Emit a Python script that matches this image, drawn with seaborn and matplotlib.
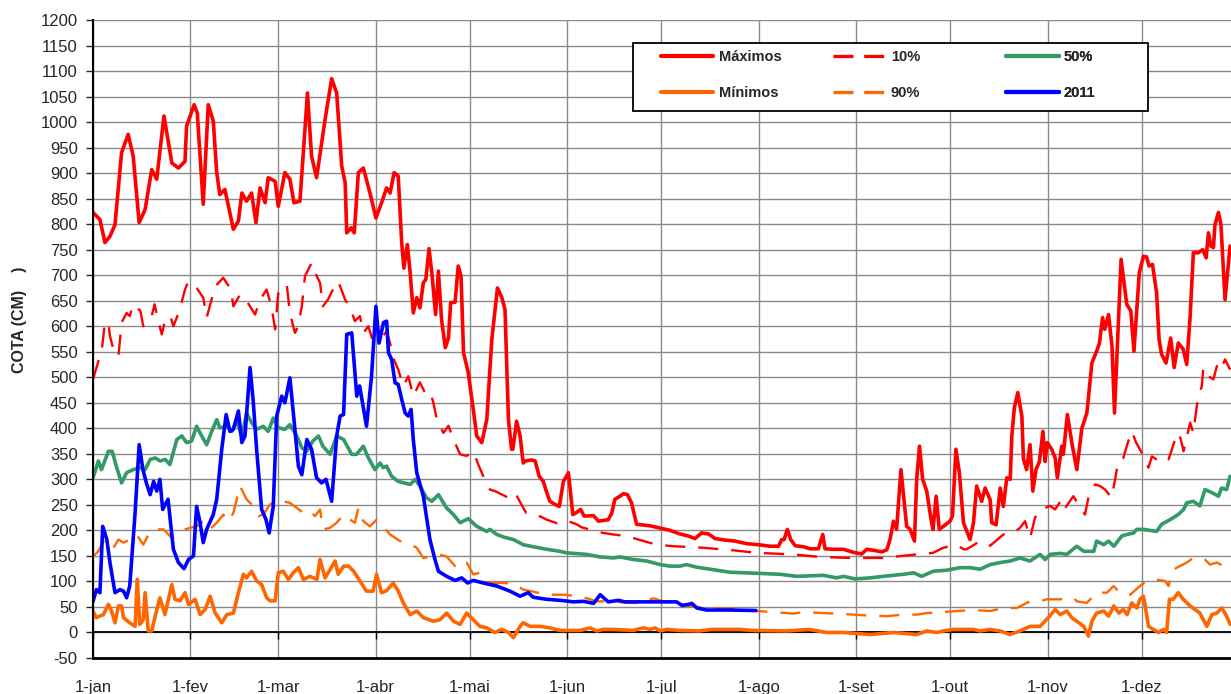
import pandas as pd
import seaborn as sns
import matplotlib.pyplot as plt
from matplotlib.lines import Line2D
from matplotlib.patches import Rectangle

# dias contados a partir de 1-jan (0 = 1-jan)
meses_dia = [0, 31, 59, 90, 120, 151, 181, 212, 243, 273, 304, 334]
meses_rotulo = ["1-jan", "1-fev", "1-mar", "1-abr", "1-mai", "1-jun",
                "1-jul", "1-ago", "1-set", "1-out", "1-nov", "1-dez"]
cota_ticks = list(range(-50, 1201, 50))

# (dia, cota em cm)
maximos = [(0, 823), (2.2, 809), (3.8, 764), (5.4, 776), (7, 799), (9.1, 940), (11.2, 976), (12.8, 933),
           (14.7, 803), (16.6, 829), (18.7, 907), (20.3, 888), (22.6, 1012), (25.1, 920), (27.2, 910),
           (29.3, 923), (29.8, 992), (32.2, 1034), (33.2, 1018), (35.1, 839), (36.7, 1034), (38.3, 1002),
           (39.4, 901), (40.4, 858), (42, 868), (44.7, 790), (46.3, 806), (47.4, 861), (48.9, 845),
           (50.5, 861), (51.9, 803), (53.2, 871), (54.8, 842), (55.8, 891), (58, 884), (59, 835),
           (61.1, 901), (62.7, 888), (64, 842), (65.9, 845), (68.3, 1057), (69.6, 933), (71.2, 891),
           (73.9, 1005), (76, 1085), (77.6, 1057), (79.2, 914), (80.3, 881), (80.8, 783), (82.2, 793),
           (83.2, 783), (84.5, 901), (86.1, 910), (88.2, 861), (90.1, 812), (91.9, 842), (93.5, 871),
           (94.6, 861), (95.9, 901), (97.2, 894), (98.3, 764), (99, 714), (100.1, 760), (101, 705),
           (102, 626), (103.1, 656), (104.1, 636), (105.2, 685), (106, 692), (107, 752), (107.9, 705),
           (109.1, 623), (110, 708), (111, 613), (112.2, 558), (113.2, 577), (113.9, 646), (115.3, 647),
           (116.3, 718), (117.2, 698), (118, 548), (119.5, 509), (121.1, 437), (122.2, 385), (123.8, 372),
           (125.4, 417), (127, 574), (128.8, 675), (130.2, 656), (131.2, 633), (132.3, 417), (133.3, 359),
           (133.7, 359), (134.9, 414), (136, 385), (137, 332), (137.7, 336), (139.7, 338), (140.8, 336),
           (142.1, 306), (143.4, 296), (144.5, 274), (145.5, 257), (147.1, 251), (148.5, 247), (149.8, 296),
           (151.4, 313), (152.8, 231), (153.7, 234), (155.3, 241), (156.4, 228), (159.4, 229), (161, 218),
           (164.1, 221), (165.2, 234), (166.2, 261), (167.8, 267), (168.9, 272), (170.2, 270), (171.5, 254),
           (173.1, 212), (177.4, 209), (181.6, 203), (183.8, 200), (186.9, 193), (189.6, 189), (191.7, 184),
           (193.8, 195), (196, 193), (198.1, 184), (201.3, 181), (204.5, 179), (208.2, 174), (211.9, 172),
           (215.6, 169), (218.3, 169), (219.3, 182), (220.1, 182), (221.1, 202), (222.2, 182), (223.6, 170),
           (226.2, 168), (228.3, 164), (231, 164), (232.4, 192), (233.1, 164), (235.8, 163), (239, 163),
           (242.1, 157), (244.8, 154), (246.4, 163), (248.5, 161), (251.2, 158), (252.8, 162), (253.8, 182),
           (254.9, 218), (255.9, 202), (257.3, 319), (259.1, 208), (260.2, 202), (261.6, 179), (262.3, 300),
           (263.2, 365), (264.2, 300), (265.5, 277), (266.9, 221), (267.5, 202), (268.5, 267), (269.5, 202),
           (270.8, 208), (272.9, 218), (273.7, 228), (274.8, 359), (275.9, 313), (277.2, 215), (279.3, 182),
           (280.4, 215), (281.4, 287), (283, 257), (284.1, 283), (285.7, 260), (286.2, 215), (287.6, 211),
           (288.9, 283), (289.9, 247), (291, 303), (292.1, 300), (292.6, 385), (293.4, 440), (294.5, 470),
           (295.8, 424), (296.3, 340), (297.3, 319), (298.4, 368), (299.3, 277), (300.3, 319), (301.4, 335),
           (302.5, 394), (303.2, 335), (303.9, 372), (305.3, 359), (306.4, 342), (307.1, 303), (308.5, 365),
           (309, 349), (310.3, 427), (311.7, 372), (313.3, 319), (314.9, 400), (316.5, 430), (318.1, 528),
           (319.6, 551), (320.5, 567), (321.5, 617), (322.2, 594), (323.4, 623), (324.5, 561), (325.3, 430),
           (326.2, 558), (327.4, 731), (329.2, 643), (330.5, 630), (331.5, 551), (333.2, 705), (334.5, 737),
           (335.5, 736), (336.3, 718), (337.4, 721), (338.7, 666), (339.5, 574), (340.3, 545), (341.7, 528),
           (343.2, 577), (344.3, 519), (345.6, 567), (347.2, 555), (348.3, 525), (349.4, 620), (350.4, 744),
           (352, 744), (353.4, 750), (354.5, 734), (355.2, 783), (356, 757), (356.8, 754), (357.3, 799),
           (358.4, 823), (359.2, 799), (360.5, 652), (362.1, 757)]

minimos = [(0, 42), (1, 29), (3.3, 35), (4.9, 55), (5.9, 42), (7, 19), (8.1, 52), (9.1, 52), (9.7, 29),
           (11.7, 19), (13.4, 12), (14.1, 104), (14.9, 16), (16, 25), (16.6, 78), (17.6, 3), (18.7, 3),
           (19.8, 32), (21.3, 68), (22.9, 35), (25.1, 94), (26.1, 65), (27.7, 62), (29.3, 78), (30.4, 55),
           (32.5, 65), (34.1, 35), (35.7, 45), (37.3, 71), (38.9, 38), (41, 19), (42.6, 35), (44.7, 38),
           (46.3, 78), (47.9, 114), (48.9, 107), (50.5, 120), (52.1, 101), (53.7, 94), (55.3, 68), (56.4, 62),
           (58, 62), (59, 117), (60.6, 120), (62.2, 104), (63.8, 117), (65.4, 127), (67, 104), (69.1, 110),
           (71.3, 104), (72.3, 143), (73.9, 107), (75.5, 123), (77.1, 140), (78.1, 114), (79.8, 130),
           (81.4, 130), (83, 120), (85, 101), (87.1, 81), (89.2, 81), (90.3, 114), (91.9, 78), (93.5, 82),
           (95.6, 97), (97.2, 81), (98.8, 58), (101, 35), (103.1, 42), (105.2, 29), (108.4, 22), (110.5, 25),
           (112.6, 38), (114.8, 22), (116.9, 16), (119, 38), (121.1, 25), (123.2, 12), (125.4, 9), (128, 0),
           (130.1, 6), (132.3, 0), (133.9, -10), (136, 12), (137, 19), (139.2, 12), (142.4, 12), (145.5, 9),
           (148.7, 4), (155.1, 4), (158.3, 9), (160.4, 3), (162.5, 6), (165.7, 6), (172, 4), (175.2, 9),
           (177.4, 6), (179, 9), (180.6, 3), (182.7, 6), (187, 4), (193, 3), (197, 6), (206, 6), (210, 4),
           (221, 3), (228, 6), (233.6, 0), (239, 0), (247.5, -4), (255, 0), (262.3, -4), (265.5, 3),
           (268.7, 0), (270.8, 3), (274, 6), (280.4, 6), (282.5, 3), (285.7, 6), (288.9, 3), (292, -4),
           (295.2, 3), (298.4, 12), (301.6, 12), (304.2, 29), (306.4, 45), (308, 35), (310.1, 42), (311.7, 29),
           (313.3, 22), (315.5, 12), (317, -7), (318.1, 22), (319.6, 38), (321.9, 42), (323.4, 32),
           (325.1, 52), (326.7, 38), (328.1, 45), (329.3, 35), (330.8, 58), (332.4, 48), (333.4, 65),
           (334.5, 71), (335, 55), (336.1, 12), (337.7, 6), (339.3, 0), (340.9, 6), (341.9, 0), (342.8, 65),
           (344, 65), (345.6, 78), (347.2, 65), (349.4, 52), (352.5, 38), (354.7, 12), (356.3, 35),
           (357.9, 38), (359.5, 48), (361, 32), (362.1, 16)]

perc_10 = [(0, 496), (2.8, 554), (3.8, 607), (4.9, 607), (5.4, 581), (6.5, 554), (8.1, 541), (9.1, 607),
           (10.7, 626), (11.7, 620), (12.8, 643), (15.1, 630), (16, 600), (18.7, 620), (19.6, 643),
           (20.8, 610), (21.9, 584), (23, 613), (24.6, 620), (25.6, 600), (27.5, 630), (29.3, 672),
           (30.4, 688), (33, 675), (35.1, 656), (36.2, 617), (38.9, 678), (41.5, 695), (43.9, 672),
           (44.7, 639), (46.8, 662), (48.9, 650), (51.6, 623), (53.2, 652), (55.3, 672), (56.9, 636),
           (58, 594), (59, 665), (61.7, 682), (62.7, 626), (64.3, 587), (65.3, 600), (66.5, 639), (67.5, 698),
           (69.6, 724), (70.7, 705), (72.3, 685), (73.2, 639), (74.8, 652), (76.9, 678), (78.1, 688),
           (80.3, 652), (81.9, 636), (83.4, 610), (85, 620), (86.1, 587), (87.7, 600), (88.8, 577),
           (91.4, 574), (92.4, 581), (93.5, 590), (94.6, 567), (95.6, 538), (97.2, 515), (98.8, 483),
           (100.4, 502), (102, 463), (104.1, 490), (105.7, 470), (107.3, 473), (108.4, 450), (109.5, 417),
           (111.6, 391), (113.2, 405), (114.8, 378), (116.9, 349), (119, 346), (121.1, 355), (122.7, 329),
           (124.3, 306), (126.4, 280), (128, 277), (132.3, 264), (133.9, 274), (135, 267), (137, 244),
           (138, 234), (140.2, 234), (144.5, 221), (148.7, 212), (151.4, 218), (154, 212), (155.6, 206),
           (160.4, 198), (162.5, 195), (165.7, 192), (170, 189), (173.7, 182), (179.5, 172), (184.8, 169),
           (194.4, 166), (203.9, 161), (211.4, 156), (223, 153), (231.5, 148), (241.1, 146), (251.7, 146),
           (262.3, 153), (267.5, 156), (270.8, 166), (275, 172), (277.2, 163), (278.2, 163), (282.5, 179),
           (285.7, 170), (289.9, 192), (293.1, 195), (295.2, 205), (296.8, 218), (298.4, 185), (300, 225),
           (301.6, 241), (303.2, 244), (304.8, 248), (306.4, 241), (308.5, 261), (309.6, 244), (312.2, 267),
           (314.1, 248), (315.9, 231), (317, 264), (319.1, 290), (320.7, 287), (322.3, 280), (324.4, 264),
           (325.5, 300), (326.5, 336), (328.1, 342), (329.7, 375), (330.8, 394), (332.2, 372), (334, 352),
           (336.1, 323), (337.2, 345), (338.7, 339), (340.9, 332), (342.5, 339), (343.6, 359), (345.2, 391),
           (346.3, 381), (347.3, 355), (349.4, 411), (350.4, 391), (351.5, 443), (352, 460), (353.1, 483),
           (353.6, 519), (355.2, 502), (356.8, 496), (357.9, 522), (358.9, 512), (360.5, 535), (362.1, 515)]

perc_90 = [(0, 149), (1.7, 159), (3.3, 179), (4.4, 166), (6.5, 166), (8.1, 182), (9.7, 176), (11.7, 182),
           (13.9, 192), (16, 172), (18.2, 198), (20.3, 202), (22.5, 202), (25.1, 185), (26.7, 192),
           (29.3, 202), (30.9, 205), (33, 208), (35.1, 218), (37.2, 202), (39.4, 215), (41.5, 231),
           (43.1, 218), (44.7, 234), (45.8, 261), (46.8, 287), (48.9, 261), (50.5, 251), (52.7, 228),
           (54.2, 231), (56.4, 251), (58.5, 257), (60.6, 257), (62.7, 254), (64.9, 244), (67, 234),
           (69.1, 238), (70.7, 228), (72.3, 241), (73.3, 202), (75.5, 205), (77.6, 215), (79.8, 231),
           (81.9, 221), (83.4, 215), (84.5, 244), (86.1, 218), (88.2, 208), (90.3, 221), (92.4, 208),
           (94.6, 192), (97.8, 179), (99.9, 176), (103.1, 166), (105.2, 146), (107.3, 149), (110, 153),
           (112.6, 149), (115.3, 130), (116.9, 140), (119, 137), (121.1, 114), (123.2, 117), (126.4, 97),
           (129.6, 97), (133.9, 96), (137, 84), (140.2, 80), (144.5, 74), (150.3, 74), (154, 71), (157.2, 67),
           (160.4, 61), (165.7, 61), (170, 58), (174.2, 58), (178.5, 67), (181.6, 61), (184.8, 57),
           (194.4, 48), (205, 46), (211.4, 42), (216.7, 40), (223, 37), (226.2, 40), (232.6, 38), (236.8, 37),
           (242.1, 35), (247.5, 33), (252.8, 32), (258.1, 35), (262.3, 35), (265.5, 38), (270.8, 40),
           (275, 42), (280.4, 44), (285.7, 42), (289.9, 48), (294.1, 48), (298.4, 61), (301.6, 61),
           (303.7, 65), (308, 65), (312.2, 68), (313.3, 61), (316.5, 58), (319.6, 78), (322.9, 78), (325, 91),
           (326.1, 84), (328.1, 74), (330.3, 74), (333.4, 91), (335.6, 101), (338.2, 104), (341.4, 101),
           (342.5, 91), (344, 123), (346.1, 130), (348.3, 137), (350.4, 146), (352.5, 146), (354.1, 143),
           (355.7, 133), (357.9, 137), (360, 130), (362.1, 127)]

perc_50 = [(0, 303), (1.7, 336), (2.7, 319), (4.9, 355), (6.1, 355), (7.4, 326), (9.1, 293), (10.7, 313),
           (12.8, 319), (15.1, 323), (16.6, 319), (18.2, 339), (19.8, 342), (21.4, 336), (23, 339),
           (24.5, 329), (26.7, 378), (28.3, 385), (29.8, 372), (31.4, 375), (33, 404), (34.6, 385),
           (36.2, 368), (37.8, 394), (39.4, 417), (40.4, 401), (42.6, 404), (44.2, 394), (45.8, 414),
           (47.4, 385), (48.9, 430), (50.5, 411), (52.1, 398), (54.2, 404), (55.8, 394), (57.4, 420),
           (59, 401), (61.1, 398), (62.7, 407), (64.9, 385), (66.5, 362), (68.1, 355), (70, 375), (71.8, 385),
           (73.2, 365), (75.5, 349), (77.6, 385), (79.8, 378), (82.4, 349), (83.9, 349), (86.1, 365),
           (87.7, 342), (89.8, 319), (91.4, 332), (92.4, 323), (93.5, 326), (95.1, 306), (97.2, 296),
           (101, 290), (102.6, 300), (104.1, 287), (106.2, 264), (107.9, 257), (110, 270), (112.6, 244),
           (114.8, 231), (116.9, 215), (119.5, 223), (122.2, 208), (125.4, 198), (126.4, 202), (128.6, 192),
           (130.8, 187), (133.9, 182), (137, 172), (140.2, 168), (144.5, 163), (148.7, 159), (150.9, 156),
           (157.2, 153), (161.5, 148), (165.7, 146), (167.8, 148), (172, 143), (176.3, 140), (180.6, 133),
           (183.8, 130), (186.9, 130), (189, 133), (192.2, 128), (197.6, 123), (202.9, 118), (211.4, 116),
           (218.8, 114), (224.1, 110), (232.6, 112), (236.8, 107), (239, 110), (242.7, 105), (247.5, 107),
           (251.7, 110), (258.1, 114), (261.3, 117), (263.9, 110), (267.6, 120), (271.9, 122), (276.1, 127),
           (279.3, 127), (282.5, 124), (285.7, 133), (288.9, 137), (292.1, 140), (295.2, 146), (298.4, 140),
           (301.6, 153), (303.2, 143), (304.8, 153), (308, 155), (310.1, 153), (313.3, 169), (315.5, 159),
           (318.7, 159), (319.6, 179), (321.9, 172), (323.4, 179), (325.1, 169), (327.6, 189), (329.3, 192),
           (331.4, 195), (332.4, 202), (334.5, 202), (338.7, 198), (340.3, 212), (343, 221), (345.6, 231),
           (347.3, 241), (348.3, 254), (350.4, 257), (352.5, 248), (354.1, 280), (356.3, 274), (358.4, 267),
           (359.4, 283), (361, 280), (362.1, 306)]

ano_2011 = [(0, 61), (1.1, 84), (2.2, 78), (3.1, 208), (4.4, 182), (5.4, 137), (7, 78), (8.6, 84), (9.7, 81),
            (10.7, 68), (11.7, 91), (13.4, 234), (14.7, 368), (15.9, 319), (17, 293), (18.2, 270),
            (19.3, 296), (20.3, 277), (21.3, 300), (22.2, 241), (23.9, 261), (25.6, 163), (27.2, 137),
            (29, 125), (30.4, 143), (32, 150), (33, 247), (34.1, 215), (35.1, 176), (36.2, 202), (38.3, 231),
            (39.4, 261), (41, 359), (42.4, 427), (43.6, 394), (44.7, 398), (46.3, 434), (47.4, 372),
            (48.4, 385), (50, 519), (51, 455), (52.1, 359), (53.7, 241), (55.1, 221), (56.1, 195), (57.4, 247),
            (58.5, 424), (60.1, 463), (61.1, 450), (62.7, 499), (64, 417), (65.4, 326), (66.5, 309),
            (68.1, 378), (69.6, 359), (71.2, 303), (72.8, 293), (74.2, 300), (76, 257), (77.6, 385),
            (78.7, 424), (79.8, 427), (80.8, 584), (82.4, 587), (84, 463), (84.9, 483), (87.1, 404),
            (88.7, 502), (90.1, 639), (91.1, 567), (92.5, 607), (93.5, 610), (94.1, 548), (95.1, 535),
            (96.2, 489), (97.2, 486), (98.3, 457), (99.4, 430), (100.4, 424), (101.3, 437), (102, 378),
            (103.1, 313), (105.2, 267), (107.3, 182), (108.9, 143), (110, 120), (112.6, 110), (115.3, 102),
            (117.4, 107), (119.3, 97), (121.1, 102), (124.3, 97), (128.6, 91), (132.8, 81), (136, 71),
            (138.6, 78), (140.2, 69), (144.5, 65), (148.7, 63), (153, 60), (156.2, 61), (159.4, 57),
            (161.5, 74), (164.1, 60), (167.3, 63), (169.4, 60), (176.3, 60), (185.8, 60), (187.6, 53),
            (189.6, 55), (190.7, 57), (192.3, 48), (195.4, 44), (202.8, 44), (211.1, 43)]

tracejado = (0, (8.5, 5.5))
series = [
    ("Máximos", maximos, "#FF0000", 2.6, "-"),
    ("Mínimos", minimos, "#FF6600", 2.6, "-"),
    ("10%", perc_10, "#FF0000", 1.7, tracejado),
    ("90%", perc_90, "#FF6600", 1.7, tracejado),
    ("50%", perc_50, "#339966", 2.6, "-"),
    ("2011", ano_2011, "#0000FF", 2.6, "-"),
]

sns.set_style("white")
plt.rcParams['font.family'] = ['Liberation Sans', 'DejaVu Sans']
plt.rcParams['axes.unicode_minus'] = False

fig = plt.figure(figsize=(12.31, 6.94), dpi=100)
ax = fig.add_axes([93 / 1231, 36 / 694, 1138 / 1231, 638 / 694])

handles = {}
for nome, pontos, cor, lw, estilo in series:
    df = pd.DataFrame(pontos, columns=["dia", "cota"])
    sns.lineplot(data=df, x="dia", y="cota", ax=ax, color=cor, linewidth=lw,
                 linestyle=estilo, estimator=None, sort=False)
    if estilo == "-":
        handles[nome] = Line2D([], [], color=cor, linewidth=3.0)
    else:
        handles[nome] = Line2D([], [], color=cor, linewidth=2.4, linestyle=(0, (6.0, 3.2)))

ax.set_xlim(0, 362.4)
ax.set_ylim(-50, 1200)
ax.set_xticks(meses_dia)
ax.set_xticklabels(meses_rotulo)
ax.set_yticks(cota_ticks)
ax.grid(True, color="#8a8a8a", linewidth=1.0)
ax.set_axisbelow(True)

# eixo das categorias cruzando em zero
ax.axhline(0, color="black", linewidth=1.3, zorder=1.5)
ax.vlines(meses_dia, -12, 0, color="black", linewidth=1.0, zorder=1.5)

ax.tick_params(axis="x", length=0, pad=16, labelsize=12)
ax.tick_params(axis="y", direction="out", length=5, width=1, pad=6, labelsize=12, left=True)
for lado in ["top", "right"]:
    ax.spines[lado].set_visible(False)
ax.spines["left"].set_color("black")
ax.spines["left"].set_linewidth(1.5)
ax.spines["bottom"].set_color("black")
ax.spines["bottom"].set_linewidth(2)

ax.set_xlabel("")
ax.set_ylabel("COTA (CM)    )", fontsize=11.5, fontweight="bold")
ax.yaxis.set_label_coords(-0.058, 0.53)

# legenda: caixa branca e tres colunas
ax.add_patch(Rectangle((0.4745, 0.8574), 0.4525, 0.1066, transform=ax.transAxes,
                       facecolor="white", edgecolor="black", linewidth=1.3, zorder=4, clip_on=False))
colunas = [(0.4991, ["Máximos", "Mínimos"]), (0.6503, ["10%", "90%"]), (0.8023, ["50%", "2011"])]
for xcol, nomes in colunas:
    leg = ax.legend([handles[n] for n in nomes], nomes, loc="upper left",
                    bbox_to_anchor=(xcol, 0.953), frameon=False, borderpad=0,
                    borderaxespad=0, handlelength=3.6, handletextpad=0.36,
                    labelspacing=1.5, prop={"weight": "bold", "size": 10.5})
    leg.set_zorder(5)
    ax.add_artist(leg)

fig.savefig("out.png", dpi=100)
